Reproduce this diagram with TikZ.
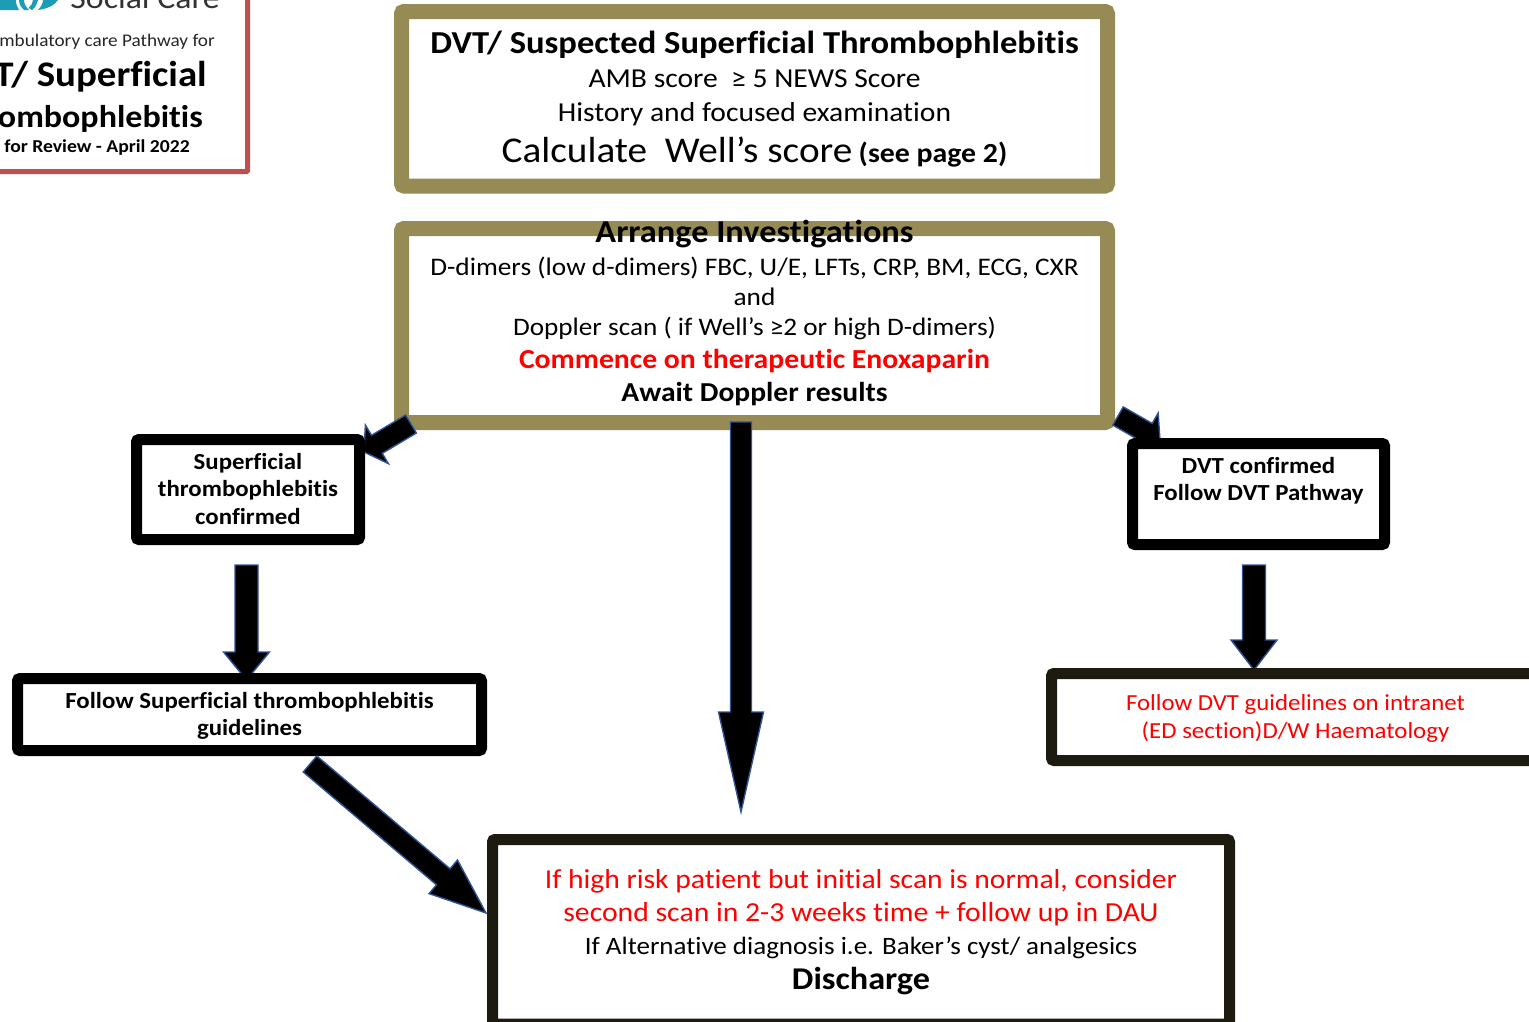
\documentclass[tikz,border=0pt]{standalone}
\usepackage{fontspec}
\setmainfont[FakeStretch=1.08,Ligatures=NoCommon]{Carlito}
\usetikzlibrary{calc}
\definecolor{mustard}{HTML}{968B54}
\definecolor{darkbox}{HTML}{1D1B10}
\definecolor{redbox}{HTML}{C0504D}
\definecolor{edgeblue}{HTML}{2F5597}
\definecolor{logoteal}{HTML}{1C9DB5}
\newcommand{\fs}[1]{\fontsize{#1}{34}\selectfont}
% block arrow from #2 to #3: shaft width #4, head width #5, head length #6
\newcommand{\blockarrow}[6][]{%
  \coordinate (hb) at ($(#3)!#6!(#2)$);
  \draw[blockedge,#1]
    ($(#2)!#4/2!90:(#3)$) -- ($(hb)!#4/2!90:(#3)$) -- ($(hb)!#5/2!90:(#3)$) -- (#3)
    -- ($(hb)!#5/2!-90:(#3)$) -- ($(hb)!#4/2!-90:(#3)$) -- ($(#2)!#4/2!-90:(#3)$) -- cycle;
}
\tikzset{
  x=1pt,y=-1pt,
  boxbase/.style={draw,fill=white,rounded corners=2.5pt,outer sep=0pt,inner xsep=0pt,inner ysep=-40pt,align=center,font=\fs{26}},
  mustardbox/.style={boxbase,draw=mustard,line width=15pt},
  blackbox/.style={boxbase,draw=black,line width=11pt},
  darkframe/.style={boxbase,draw=darkbox,line width=11pt},
  blockedge/.style={draw=edgeblue,fill=black,line width=1.4pt,miter limit=10},
  headtext/.style={anchor=base east,inner sep=0pt}
}
\begin{document}
\begin{tikzpicture}
\useasboundingbox (0,0) rectangle (1529,1021);
\clip (0,0) rectangle (1529,1021);
% header box
\node[draw=redbox,line width=5pt,fill=white,rounded corners=1pt,outer sep=0pt,minimum width=300pt,minimum height=220pt] (header) at (97.5,61.5) {};
\fill[logoteal] (0,0) -- (16,0) .. controls (16,4) and (17,7) .. (19,10) -- (0,10) -- cycle;
\fill[logoteal] (19,0) -- (24,0) .. controls (24,4) and (26,7) .. (29,10) -- (24,10) .. controls (21,7) and (19,4) .. (19,0) -- cycle;
\fill[logoteal] (33,0) -- (38,0) .. controls (37,4) and (35,8) .. (32,10) -- (28.5,8) .. controls (31,6) and (33,3) .. (33,0) -- cycle;
\fill[logoteal] (43,0) -- (58,0) .. controls (55,5) and (47,9) .. (38,10) .. controls (41,7) and (43,3) .. (43,0) -- cycle;
\node[headtext,font=\fontsize{31.3}{34}\selectfont,text=black!80] (org) at (220,8) {Social Care};
\node[headtext,font=\fontsize{17.8}{20}\selectfont,text=black!85] (hl1) at (215,46) {Ambulatory care Pathway for};
\node[headtext,font=\bfseries\fontsize{36}{40}\selectfont] (hl2) at (207,86) {DVT/ Superficial};
\node[headtext,font=\bfseries\fontsize{31.5}{34}\selectfont] (hl3) at (203,127) {Thrombophlebitis};
\node[headtext,font=\bfseries\fontsize{18.2}{20}\selectfont] (hl4) at (190,152) {Date for Review - April 2022};

% mustard boxes
\node[mustardbox,minimum width=706pt,minimum height=174.5pt] (top) at (754.5,98.75) {%
{\bfseries\fs{32}DVT/ Suspected Superficial Thrombophlebitis}\\[0pt]
{\fs{27.4}AMB score\ \ ≥ 5 NEWS Score}\\
{\fs{27.4}History and focused examination}\\[7pt]
{\fs{36.3}Calculate\ \ Well’s score} {\bfseries\fs{27.6}(see page 2)}};
\node[mustardbox,minimum width=706pt,minimum height=194pt] (inv) at (754.5,325.5) {%
{\bfseries\fs{31.8}Arrange Investigations}\\[-1pt]
{\fs{25.3}D-dimers (low d-dimers) FBC, U/E, LFTs, CRP, BM, ECG, CXR}\\[-4pt]
{\fs{25.3}and}\\[-4pt]
{\fs{25.2}Doppler scan ( if Well’s ≥2 or high D-dimers)}\\[-1pt]
{\bfseries\fs{27.5}\color{red}Commence on therapeutic Enoxaparin}\\[-1pt]
{\bfseries\fs{27.4}Await Doppler results}\\[-4pt]\mbox{}};

% arrow end points
\coordinate (a1s) at (411,424);
\coordinate (a1e) at (364,452);
\coordinate (a2s) at (1118,416);
\coordinate (a2e) at (1160,440);
\coordinate (a3s) at (741,422);
\coordinate (a3e) at (741,812);
\coordinate (a4s) at (246.5,565);
\coordinate (a4e) at (246.5,680);
\coordinate (a5s) at (1254,565);
\coordinate (a5e) at (1254,670);
\coordinate (a6s) at (310,764);
\coordinate (a6e) at (486,913);

\blockarrow{a1s}{a1e}{21pt}{45pt}{15pt}
\blockarrow{a2s}{a2e}{21pt}{45pt}{15pt}
\blockarrow{a3s}{a3e}{21pt}{45pt}{100pt}
\blockarrow{a4s}{a4e}{23pt}{46pt}{28pt}
\blockarrow{a5s}{a5e}{23pt}{46pt}{30pt}

% black boxes
\node[blackbox,minimum width=223pt,minimum height=100pt] (sup) at (248,489.5) {%
{\bfseries\fs{23}Superficial}\\[-6.5pt]{\bfseries\fs{23}thrombophlebitis}\\[-6.5pt]{\bfseries\fs{23}confirmed}\\[-32pt]\mbox{}};
\node[blackbox,minimum width=252pt,minimum height=101pt] (dvt) at (1258.5,494) {%
{\bfseries\fs{23}DVT confirmed}\\[-6.5pt]{\bfseries\fs{23}Follow DVT Pathway}\\[-4pt]\mbox{}};
\node[blackbox,minimum width=464pt,minimum height=72pt] (fsup) at (249.5,714.5) {%
\mbox{}\\[-15pt]{\bfseries\fs{23}Follow Superficial thrombophlebitis}\\[-7.5pt]{\bfseries\fs{23}guidelines}};
\node[darkframe,minimum width=488pt,minimum height=87pt] (fdvt) at (1295.5,717) {%
\mbox{}\\[-15pt]{\fs{23}\color{red}Follow DVT guidelines on intranet}\\[-5.5pt]{\fs{23}\color{red}(ED section)D/W Haematology}};
\node[darkframe,minimum width=737pt,minimum height=184.5pt] (dis) at (861,931.75) {%
{\fs{27.4}\color{red}If high risk patient but initial scan is normal, consider}\\[-1pt]
{\fs{27.5}\color{red}second scan in 2-3 weeks time + follow up in DAU}\\[-1pt]
{\fs{25}If Alternative diagnosis i.e. Baker’s cyst/ analgesics}\\[1pt]
{\bfseries\fs{31.7}Discharge}\\[-30pt]\mbox{}};

\blockarrow{a6s}{a6e}{21pt}{44pt}{56pt}
\end{tikzpicture}
\end{document}
